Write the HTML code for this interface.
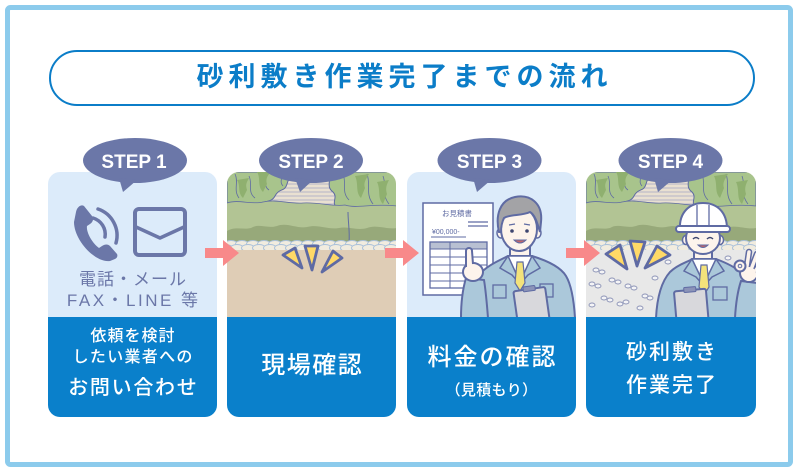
<!DOCTYPE html>
<html><head><meta charset="utf-8">
<style>
html,body{margin:0;padding:0;background:#fff;}
body{width:800px;height:473px;position:relative;overflow:hidden;font-family:"Liberation Sans","Noto Sans CJK JP",sans-serif;}
.t{position:absolute;text-align:center;white-space:nowrap;font-family:"Liberation Sans","Noto Sans CJK JP",sans-serif;box-sizing:border-box;}
.w{color:#fff;font-weight:500;}
.s{color:#6b77a8;}
</style></head><body>
<svg width="800" height="473" viewBox="0 0 800 473" style="position:absolute;left:0;top:0" xmlns="http://www.w3.org/2000/svg">
<defs>
  <clipPath id="c1"><rect x="48" y="172" width="169" height="245" rx="12"/></clipPath>
  <clipPath id="c2"><rect x="227" y="172" width="169" height="245" rx="12"/></clipPath>
  <clipPath id="c3"><rect x="407" y="172" width="169" height="245" rx="12"/></clipPath>
  <clipPath id="c4"><rect x="586" y="172" width="170" height="245" rx="12"/></clipPath>
  <g id="gtop">
    <rect x="0" y="172" width="170" height="45" fill="#e9e0d1"/>
    <g stroke="#a3a7c2" stroke-width="0.8">
      <line x1="0" y1="176" x2="170" y2="176"/><line x1="0" y1="180" x2="170" y2="180"/>
      <line x1="0" y1="184" x2="170" y2="184"/><line x1="0" y1="188" x2="170" y2="188"/>
      <line x1="0" y1="192" x2="170" y2="192"/><line x1="0" y1="196" x2="170" y2="196"/>
      <line x1="0" y1="200" x2="170" y2="200"/><line x1="0" y1="204" x2="170" y2="204"/>
      <line x1="0" y1="208" x2="170" y2="208"/>
    </g>
    <path d="M0,172 H70 C66,178 62,176 60,184 C58,192 52,188 48,196 C44,204 34,200 28,206 C20,210 8,204 0,208 Z" fill="#a8c48c" stroke="#5f6ba3" stroke-width="1"/>
    <path d="M8,174 C12,182 6,190 12,198 M22,176 C26,184 20,192 28,198 M38,174 C40,180 36,186 42,190 M54,174 C56,178 52,182 56,186" fill="none" stroke="#5f6ba3" stroke-width="0.8"/>
    <path d="M30,172 C34,178 30,186 36,192 L40,184 C38,178 42,174 44,172 Z" fill="#8fb06f"/>
    <path d="M10,180 C14,186 10,192 16,198 L20,190 C18,184 20,182 22,178 Z" fill="#8fb06f"/>
    <path d="M170,172 H100 C106,180 98,186 106,192 C112,198 102,204 112,208 C120,212 130,206 138,212 C146,216 158,210 170,214 Z" fill="#a8c48c" stroke="#5f6ba3" stroke-width="1"/>
    <path d="M116,174 C120,184 114,192 122,200 M140,174 C144,184 138,194 146,204 M156,176 C160,186 154,194 162,204" fill="none" stroke="#5f6ba3" stroke-width="0.8"/>
    <path d="M128,176 C132,184 128,192 134,198 L138,188 C136,182 140,178 142,174 Z" fill="#8fb06f"/>
    <path d="M150,182 C154,190 150,198 156,204 L160,194 C158,188 160,184 162,180 Z" fill="#8fb06f"/>
    <path d="M0,203 C12,199 24,205 36,202 C50,199 62,204 76,203 C92,202 106,207 118,205 C130,209 146,203 170,206 V250 H0 Z" fill="#b2c494"/>
    <path d="M0,203 C12,199 24,205 36,202 C50,199 62,204 76,203 C92,202 106,207 118,205 C130,209 146,203 170,206" fill="none" stroke="#5f6ba3" stroke-width="0.8"/>
    <path d="M0,231 C8,226 16,230 24,228 C32,223 40,229 50,226 C60,222 70,229 80,227 C92,224 100,230 112,228 C122,226 130,231 140,228 C150,224 160,230 170,228 V250 H0 Z" fill="#97a97a"/>
    <path d="M121,212 C121,222 123,232 122,242" fill="none" stroke="#5f6ba3" stroke-width="1"/>
    <g fill="#f1ecdf" stroke="#a9c0da" stroke-width="0.9">
      <ellipse cx="4" cy="244" rx="6.5" ry="3.5"/><ellipse cx="15" cy="244" rx="6.5" ry="3.5"/><ellipse cx="26" cy="244" rx="6.5" ry="3.5"/>
      <ellipse cx="37" cy="244" rx="6.5" ry="3.5"/><ellipse cx="48" cy="244" rx="6.5" ry="3.5"/><ellipse cx="59" cy="244" rx="6.5" ry="3.5"/>
      <ellipse cx="70" cy="244" rx="6.5" ry="3.5"/><ellipse cx="81" cy="244" rx="6.5" ry="3.5"/><ellipse cx="92" cy="244" rx="6.5" ry="3.5"/>
      <ellipse cx="103" cy="244" rx="6.5" ry="3.5"/><ellipse cx="114" cy="244" rx="6.5" ry="3.5"/><ellipse cx="125" cy="244" rx="6.5" ry="3.5"/>
      <ellipse cx="136" cy="244" rx="6.5" ry="3.5"/><ellipse cx="147" cy="244" rx="6.5" ry="3.5"/><ellipse cx="158" cy="244" rx="6.5" ry="3.5"/>
      <ellipse cx="169" cy="244" rx="6.5" ry="3.5"/>
      <ellipse cx="-1" cy="248" rx="6.5" ry="3.5"/><ellipse cx="10" cy="248" rx="6.5" ry="3.5"/><ellipse cx="21" cy="248" rx="6.5" ry="3.5"/>
      <ellipse cx="32" cy="248" rx="6.5" ry="3.5"/><ellipse cx="43" cy="248" rx="6.5" ry="3.5"/><ellipse cx="54" cy="248" rx="6.5" ry="3.5"/>
      <ellipse cx="65" cy="248" rx="6.5" ry="3.5"/><ellipse cx="76" cy="248" rx="6.5" ry="3.5"/><ellipse cx="87" cy="248" rx="6.5" ry="3.5"/>
      <ellipse cx="98" cy="248" rx="6.5" ry="3.5"/><ellipse cx="109" cy="248" rx="6.5" ry="3.5"/><ellipse cx="120" cy="248" rx="6.5" ry="3.5"/>
      <ellipse cx="131" cy="248" rx="6.5" ry="3.5"/><ellipse cx="142" cy="248" rx="6.5" ry="3.5"/><ellipse cx="153" cy="248" rx="6.5" ry="3.5"/>
      <ellipse cx="164" cy="248" rx="6.5" ry="3.5"/>
    </g>
  </g>
</defs>

<rect x="7.5" y="7.5" width="783" height="457" rx="3" fill="#fff" stroke="#8ccbec" stroke-width="5"/>
<rect x="50" y="51" width="704" height="54" rx="27" fill="#fff" stroke="#0b7dc8" stroke-width="2"/>

<!-- CARD 1 -->
<g clip-path="url(#c1)">
  <rect x="48" y="172" width="169" height="145" fill="#dcebfa"/>
  <rect x="48" y="317" width="169" height="100" fill="#0a80cb"/>
</g>
<path d="M84,206 L92,216 C94,219 93,222 90,224 L87,226 C86,232 92,243 99,248 L102,246 C105,244 108,244 110,246 L117,254 C118,256 117,258 115,259 L110,261 C95,263 74,240 74,222 L76,212 C77,207 81,204 84,206 Z" fill="#6b77a8"/>
<path d="M93,218 A17,17 0 0 1 105,237" fill="none" stroke="#6b77a8" stroke-width="3.5" stroke-linecap="round"/>
<path d="M98,209 A28,28 0 0 1 116,243" fill="none" stroke="#6b77a8" stroke-width="3.5" stroke-linecap="round"/>
<rect x="135" y="209" width="50" height="46" rx="4" fill="none" stroke="#6b77a8" stroke-width="4"/>
<path d="M136,227 L160,238 L184,227" fill="none" stroke="#6b77a8" stroke-width="3.5" stroke-linejoin="round"/>

<!-- CARD 2 -->
<g clip-path="url(#c2)">
  <use href="#gtop" x="227"/>
  <rect x="227" y="250" width="169" height="67" fill="#dfcdb6"/>
  <rect x="227" y="317" width="169" height="100" fill="#0a80cb"/>
</g>
<g fill="#ffd967" stroke="#5e6aa4" stroke-width="2.8" stroke-linejoin="round">
  <polygon points="283,255 295,248 302,268"/>
  <polygon points="305,246 318,246 312,270"/>
  <polygon points="333,251 342,258 322,272"/>
</g>

<!-- CARD 3 -->
<g clip-path="url(#c3)">
  <rect x="407" y="172" width="169" height="145" fill="#dcebfa"/>
  <rect x="423" y="203" width="70" height="92" fill="#fff" stroke="#5f6ba3" stroke-width="1.5"/>
  <text x="457" y="216" font-size="7.5" fill="#5f6ba3" text-anchor="middle" font-family="Liberation Sans, Noto Sans CJK JP, sans-serif">お見積書</text>
  <line x1="468" y1="222" x2="488" y2="222" stroke="#5f6ba3" stroke-width="1.2"/>
  <line x1="468" y1="226" x2="488" y2="226" stroke="#5f6ba3" stroke-width="1.2"/>
  <text x="432" y="234" font-size="7" fill="#5f6ba3" font-family="Liberation Sans, sans-serif">¥00,000-</text>
  <line x1="431" y1="237" x2="466" y2="237" stroke="#5f6ba3" stroke-width="1"/>
  <rect x="430" y="242" width="57" height="7" fill="#b8c0d2"/>
  <rect x="430" y="242" width="57" height="46" fill="none" stroke="#5f6ba3" stroke-width="1.3"/>
  <g stroke="#5f6ba3" stroke-width="1">
    <line x1="430" y1="249" x2="487" y2="249"/><line x1="430" y1="257" x2="487" y2="257"/>
    <line x1="430" y1="265" x2="487" y2="265"/><line x1="430" y1="273" x2="487" y2="273"/>
    <line x1="430" y1="281" x2="487" y2="281"/><line x1="450" y1="242" x2="450" y2="288"/>
  </g>
  <rect x="510" y="244" width="20" height="16" fill="#fdf4ec" stroke="#5f6ba3" stroke-width="2"/>
  <path d="M466,318 C467,300 470,285 478,276 C486,266 498,261 508,256 L532,256 C545,260 560,266 566,276 C572,286 574,302 575,318 Z" fill="#abc8da" stroke="#5f6ba3" stroke-width="2"/>
  <path d="M508,256 L520,282 L532,256 Z" fill="#fff" stroke="#5f6ba3" stroke-width="1.5"/>
  <path d="M508,256 L500,268 L512,275 L520,284 M532,256 L540,268 L528,275 L520,284" fill="none" stroke="#5f6ba3" stroke-width="1.5"/>
  <path d="M517,262 L523,262 L525,283 L520,291 L515,283 Z" fill="#f3e27b" stroke="#5f6ba3" stroke-width="1.2"/>
  <rect x="493" y="285" width="13" height="13" fill="none" stroke="#5f6ba3" stroke-width="1.3"/>
  <rect x="540" y="284" width="13" height="13" fill="none" stroke="#5f6ba3" stroke-width="1.3"/>
  <ellipse cx="501" cy="233" rx="4" ry="5" fill="#fdf4ec" stroke="#5f6ba3" stroke-width="1.5"/>
  <ellipse cx="537" cy="233" rx="4" ry="5" fill="#fdf4ec" stroke="#5f6ba3" stroke-width="1.5"/>
  <ellipse cx="519" cy="229" rx="18" ry="22" fill="#fdf4ec" stroke="#5f6ba3" stroke-width="2"/>
  <path d="M499,232 C495,215 500,200 515,197 C530,194 543,203 541,222 L540,232 C537,222 535,215 530,212 C522,216 510,214 504,218 C502,222 501,228 501,232 Z" fill="#a3a3a6" stroke="#5f6ba3" stroke-width="2"/>
  <circle cx="512" cy="231" r="1.8" fill="#3d4670"/>
  <circle cx="527" cy="231" r="1.8" fill="#3d4670"/>
  <path d="M509,225 L515,224 M524,224 L530,225" stroke="#5f6ba3" stroke-width="1.2"/>
  <path d="M514,240 Q520,246 526,240 Z" fill="#c0646a" stroke="#5f6ba3" stroke-width="1"/>
  <path d="M461,318 C461,300 463,288 466,278 L484,280 C486,292 487,305 488,318 Z" fill="#abc8da" stroke="#5f6ba3" stroke-width="2"/>
  <ellipse cx="473" cy="272" rx="10" ry="9" fill="#fdf4ec" stroke="#5f6ba3" stroke-width="2"/>
  <path d="M466,267 L466,251 C466,247 472,247 472,251 L473,264" fill="#fdf4ec" stroke="#5f6ba3" stroke-width="2"/>
  <g transform="rotate(-8 531 302)">
    <rect x="515" y="289" width="32" height="34" rx="2" fill="#d8d8dc" stroke="#5f6ba3" stroke-width="2"/>
    <rect x="525" y="286" width="12" height="5" rx="1" fill="#8b93b8" stroke="#5f6ba3" stroke-width="1"/>
  </g>
  <rect x="407" y="317" width="169" height="100" fill="#0a80cb"/>
</g>

<!-- CARD 4 -->
<g clip-path="url(#c4)">
  <use href="#gtop" x="586"/>
  <rect x="586" y="250" width="170" height="67" fill="#e8e8e8"/>
  <g fill="#f4f4f6" stroke="#8e95b8" stroke-width="0.9">
    <ellipse cx="596" cy="270" rx="3" ry="2"/><ellipse cx="602" cy="272" rx="3" ry="2"/>
    <ellipse cx="592" cy="284" rx="3" ry="2"/><ellipse cx="598" cy="286" rx="3" ry="2"/>
    <ellipse cx="612" cy="280" rx="3" ry="2"/><ellipse cx="618" cy="282" rx="3" ry="2"/>
    <ellipse cx="628" cy="286" rx="3" ry="2"/><ellipse cx="634" cy="288" rx="3" ry="2"/>
    <ellipse cx="604" cy="298" rx="3" ry="2"/><ellipse cx="610" cy="300" rx="3" ry="2"/>
    <ellipse cx="620" cy="304" rx="3" ry="2"/><ellipse cx="626" cy="302" rx="3" ry="2"/>
    <ellipse cx="592" cy="305" rx="3" ry="2"/><ellipse cx="645" cy="296" rx="3" ry="2"/>
    <ellipse cx="650" cy="298" rx="3" ry="2"/><ellipse cx="640" cy="308" rx="3" ry="2"/>
    <ellipse cx="655" cy="278" rx="3" ry="2"/><ellipse cx="750" cy="262" rx="3" ry="2"/>
    <ellipse cx="728" cy="258" rx="3" ry="2"/><ellipse cx="668" cy="262" rx="3" ry="2"/>
  </g>
  <rect x="694" y="246" width="18" height="16" fill="#fdf4ec" stroke="#5f6ba3" stroke-width="2"/>
  <path d="M656,318 C657,298 661,282 670,272 C678,264 688,262 692,259 L716,259 C724,262 734,266 740,272 C748,282 752,300 754,318 Z" fill="#abc8da" stroke="#5f6ba3" stroke-width="2"/>
  <path d="M692,259 L704,284 L716,259 Z" fill="#fff" stroke="#5f6ba3" stroke-width="1.5"/>
  <path d="M692,259 L684,271 L696,277 L704,286 M716,259 L724,271 L712,277 L704,286" fill="none" stroke="#5f6ba3" stroke-width="1.5"/>
  <path d="M701,265 L707,265 L709,287 L704,295 L699,287 Z" fill="#f3e27b" stroke="#5f6ba3" stroke-width="1.2"/>
  <rect x="713" y="287" width="14" height="13" fill="none" stroke="#5f6ba3" stroke-width="1.3"/>
  <ellipse cx="686" cy="240" rx="3.5" ry="4.5" fill="#fdf4ec" stroke="#5f6ba3" stroke-width="1.5"/>
  <ellipse cx="720" cy="240" rx="3.5" ry="4.5" fill="#fdf4ec" stroke="#5f6ba3" stroke-width="1.5"/>
  <ellipse cx="703" cy="238" rx="17" ry="16" fill="#fdf4ec" stroke="#5f6ba3" stroke-width="2"/>
  <path d="M693,239 Q696,236 699,239 M707,239 Q710,236 713,239" fill="none" stroke="#3d4670" stroke-width="1.5"/>
  <path d="M698,245 Q703,250 708,245 Z" fill="#c0646a" stroke="#5f6ba3" stroke-width="1"/>
  <path d="M680,229 C679,212 690,203 703,203 C717,203 727,212 727,229 Z" fill="#fff" stroke="#5f6ba3" stroke-width="2"/>
  <path d="M697,205 L697,227 M709,205 L709,227" stroke="#5f6ba3" stroke-width="1.3"/>
  <rect x="676" y="226" width="54" height="6" rx="3" fill="#fff" stroke="#5f6ba3" stroke-width="2"/>
  <g transform="rotate(-5 691 303)">
    <rect x="675" y="290" width="32" height="32" rx="2" fill="#d8d8dc" stroke="#5f6ba3" stroke-width="2"/>
    <rect x="685" y="287" width="12" height="5" rx="1" fill="#8b93b8" stroke="#5f6ba3" stroke-width="1"/>
  </g>
  <path d="M735,318 C736,300 738,290 741,281 L757,283 C758,294 758,305 758,318 Z" fill="#abc8da" stroke="#5f6ba3" stroke-width="2"/>
  <ellipse cx="749" cy="273" rx="9" ry="9" fill="#fdf4ec" stroke="#5f6ba3" stroke-width="2"/>
  <g stroke-linecap="round" fill="none">
    <path d="M747,266 L749,252 M752,267 L757,254 M756,270 L763,260" stroke="#5f6ba3" stroke-width="6.5"/>
    <path d="M747,266 L749,252 M752,267 L757,254 M756,270 L763,260" stroke="#fdf4ec" stroke-width="3.5"/>
  </g>
  <ellipse cx="749" cy="274" rx="7" ry="7" fill="#fdf4ec"/>
  <circle cx="740" cy="266" r="5.5" fill="#fdf4ec" stroke="#5f6ba3" stroke-width="2"/>
  <circle cx="740" cy="266" r="1.8" fill="#e8e8e8" stroke="#5f6ba3" stroke-width="1"/>
  <rect x="586" y="317" width="170" height="100" fill="#0a80cb"/>
</g>
<g fill="#ffd967" stroke="#5e6aa4" stroke-width="2.8" stroke-linejoin="round">
  <polygon points="606,254 620,245 627,269"/>
  <polygon points="630,241 645,242 637,266"/>
  <polygon points="657,246 670,255 645,268"/>
</g>

<g fill="#f8898a">
  <polygon points="205,248 223,248 223,240 239,253 223,266 223,258 205,258"/>
  <polygon points="385,248 403,248 403,240 419,253 403,266 403,258 385,258"/>
  <polygon points="566,248 584,248 584,240 600,253 584,266 584,258 566,258"/>
</g>

<g fill="#6b77a8">
  <ellipse cx="135" cy="160.5" rx="52" ry="22.5"/><polygon points="119,178 137,180 123,192"/>
  <ellipse cx="311" cy="160.5" rx="52" ry="22.5"/><polygon points="295,178 313,180 300,192"/>
  <ellipse cx="489.5" cy="160.5" rx="52" ry="22.5"/><polygon points="473,178 491,180 477,192"/>
  <ellipse cx="670.5" cy="160.5" rx="52" ry="22.5"/><polygon points="654,178 672,180 658,192"/>
</g>
<g fill="#fff" font-family="Liberation Sans, sans-serif" font-weight="bold" font-size="19" text-anchor="middle">
  <text x="134" y="168">STEP 1</text>
  <text x="311" y="168">STEP 2</text>
  <text x="489.5" y="168">STEP 3</text>
  <text x="670.5" y="168">STEP 4</text>
</g>
</svg>

<div class="t" style="left:49px;top:49px;width:706px;height:56px;line-height:56px;font-size:27px;font-weight:bold;letter-spacing:5px;padding-left:5px;color:#0b7dc8;">砂利敷き作業完了までの流れ</div>

<div class="t s" style="left:48px;top:268px;width:169px;height:24px;line-height:24px;font-size:17px;letter-spacing:1px;padding-left:1px;">電話・メール</div>
<div class="t s" style="left:48px;top:289px;width:169px;height:24px;line-height:24px;font-size:17px;letter-spacing:2.5px;padding-left:2.5px;">FAX・LINE 等</div>

<div class="t w" style="left:48px;top:327px;width:169px;height:20px;line-height:20px;font-size:16px;letter-spacing:1px;padding-left:1px;">依頼を検討</div>
<div class="t w" style="left:48px;top:348px;width:169px;height:20px;line-height:20px;font-size:16px;letter-spacing:1.3px;padding-left:1.3px;">したい業者への</div>
<div class="t w" style="left:48px;top:375px;width:169px;height:26px;line-height:26px;font-size:20px;letter-spacing:1.7px;padding-left:1.7px;">お問い合わせ</div>

<div class="t w" style="left:227px;top:351px;width:169px;height:30px;line-height:30px;font-size:24px;letter-spacing:1.5px;padding-left:1.5px;">現場確認</div>

<div class="t w" style="left:407px;top:343px;width:169px;height:30px;line-height:30px;font-size:24px;letter-spacing:2px;padding-left:2px;">料金の確認</div>
<div class="t w" style="left:407px;top:381px;width:169px;height:20px;line-height:20px;font-size:15px;letter-spacing:0.3px;">（見積もり）</div>

<div class="t w" style="left:586px;top:339px;width:170px;height:28px;line-height:28px;font-size:21px;letter-spacing:2px;padding-left:2px;">砂利敷き</div>
<div class="t w" style="left:586px;top:372px;width:170px;height:28px;line-height:28px;font-size:21px;letter-spacing:2px;padding-left:2px;">作業完了</div>
</body></html>
